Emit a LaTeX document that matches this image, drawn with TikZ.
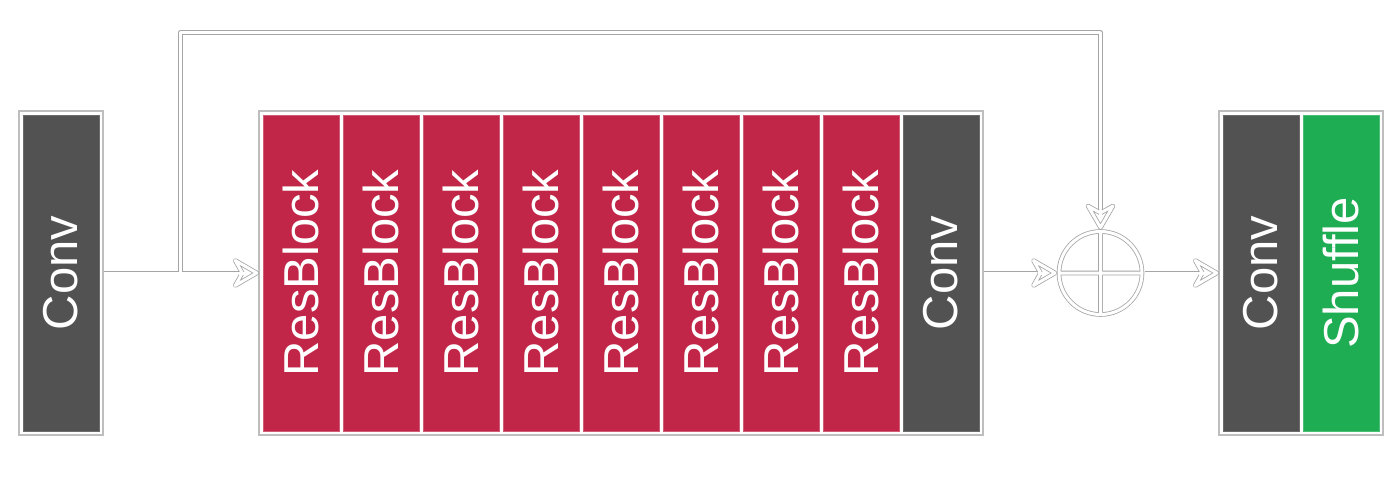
\documentclass[tikz,border=0pt]{standalone}
\usepackage{fontspec}
\setsansfont{Liberation Sans}
\usetikzlibrary{calc}
\definecolor{dk}{RGB}{82,82,82}
\definecolor{rb}{RGB}{193,38,72}
\definecolor{gn}{RGB}{31,173,84}
\definecolor{bd}{RGB}{190,190,190}
\definecolor{ln}{RGB}{165,165,165}
\newcommand\headR[1]{%
  \draw[conn, fill=white] ($(#1)+(-16,0)$) -- ($(#1)+(-23,-12.5)$) -- ($(#1)+(-1.5,0)$) -- ($(#1)+(-23,12.5)$) -- cycle;
  \draw[white, line width=3pt] ($(#1)+(-19,0)$) -- ($(#1)+(-12,0)$);}
\newcommand\headD[1]{%
  \draw[conn, fill=white] ($(#1)+(0,-16)$) -- ($(#1)+(-12.5,-23)$) -- ($(#1)+(0,-1.5)$) -- ($(#1)+(12.5,-23)$) -- cycle;
  \draw[white, line width=3pt] ($(#1)+(0,-19)$) -- ($(#1)+(0,-12)$);}
\begin{document}
\begin{tikzpicture}[x=1pt,y=-1pt,
  group/.style={draw=bd, line width=1.5pt, fill=white, inner sep=0pt, minimum height=324pt},
  blk/.style={inner sep=0pt, minimum width=76pt, minimum height=316pt, text=white,
    font=\sffamily\fontsize{49}{55}\selectfont, line width=0.8pt},
  conn/.style={draw=ln, double=white, double distance=3pt, line width=0.8pt, line join=round}
]
\useasboundingbox (0,0) rectangle (1400,500);
% groups
\node[group, minimum width=84pt] (g1) at (61,273) {};
\node[group, minimum width=724pt] (g2) at (621,273) {};
\node[group, minimum width=164pt] (g3) at (1301,273) {};
% blocks
\node[blk, fill=dk, draw=dk!85!white] (c1) at (61,273) {\rotatebox{90}{Conv}};
\foreach \i in {1,...,8}{
  \node[blk, fill=rb, draw=rb!75!white] (r\i) at ({301+80*(\i-1)},273) {\rotatebox{90}{ResBlock}};
}
\node[blk, fill=dk, draw=dk!85!white] (c2) at (941,273) {\rotatebox{90}{Conv}};
\node[blk, fill=dk, draw=dk!85!white] (c3) at (1261,273) {\rotatebox{90}{Conv}};
\node[blk, fill=gn, draw=gn!80!white] (sh) at (1341,273) {\rotatebox{90}{Shuffle}};
% sum
\node[circle, inner sep=0pt, minimum size=87.6pt, draw=none] (sum) at (1100.5,273) {};
\draw[conn] (sum.center) circle[radius=41.5pt]
  ([yshift=-2.3pt]sum.north) -- ([yshift=2.3pt]sum.south)
  ([xshift=2.3pt]sum.west) -- ([xshift=-2.3pt]sum.east);
% connectors
\coordinate (jn) at (180.5,273);
\coordinate (tl) at (180.5,32.5);
\draw[conn] (g1.east) -- ($(g2.west)+(-16,0)$);
\headR{g2.west}
\draw[conn] ([yshift=1.5pt]jn) -- (tl) -| ($(sum.north)+(0,-16)$);
\headD{sum.north}
\draw[conn] (g2.east) -- ($(sum.west)+(-16,0)$);
\headR{sum.west}
\draw[conn] (sum.east) -- ($(g3.west)+(-16,0)$);
\headR{g3.west}
\end{tikzpicture}
\end{document}
